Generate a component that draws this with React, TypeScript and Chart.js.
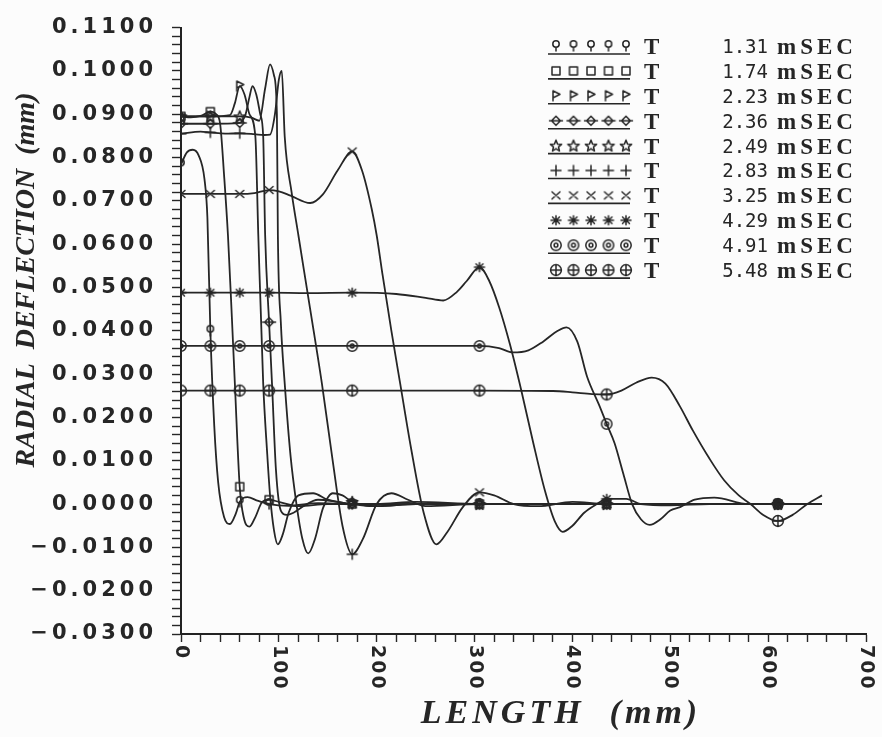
import React, { useEffect, useRef } from 'react';
import { Chart, registerables } from 'chart.js';

Chart.register(...registerables);

// ---------- data ----------
const times = ['1.31', '1.74', '2.23', '2.36', '2.49', '2.83', '3.25', '4.29', '4.91', '5.48'];
const markerKinds = ['lollipop', 'square', 'flag', 'diamond', 'star', 'plus', 'cross', 'asterisk', 'circleDot', 'circlePlus'];
const markerXs = [0, 30, 60, 90, 175, 305, 435, 610];
const xTickValues = [0, 100, 200, 300, 400, 500, 600, 700];
const yMin = -0.03;
const yMax = 0.11;
const xMin = 0;
const xMax = 700;

const x131 = [0, 6, 12, 18, 24, 27, 30, 34, 38, 44, 50, 56, 60, 68, 78, 90, 110, 140, 175, 220, 305, 435, 610, 655];
const y131 = [0.0784, 0.0812, 0.0818, 0.0805, 0.0750, 0.0660, 0.0400, 0.0180, 0.0050, -0.0030, -0.0046, -0.0022, 0.0005, 0.0016, 0.0008, 0.0000, -0.0004, 0.0002, 0.0000, 0.0000, 0.0000, 0.0000, 0.0000, 0.0000];

const x174 = [0, 10, 20, 30, 36, 40, 44, 48, 52, 55, 60, 64, 70, 76, 83, 90, 100, 120, 150, 175, 220, 305, 435, 610, 655];
const y174 = [0.0895, 0.0893, 0.0896, 0.0906, 0.0900, 0.0878, 0.0760, 0.0620, 0.0430, 0.0280, 0.0040, -0.0030, -0.0052, -0.0030, 0.0005, 0.0010, 0.0005, -0.0005, 0.0000, 0.0000, 0.0000, 0.0000, 0.0000, 0.0000, 0.0000];

const x223 = [0, 30, 50, 55, 60, 65, 70, 76, 79, 84, 88, 91, 95, 99, 104, 110, 120, 135, 150, 175, 200, 240, 305, 435, 610, 655];
const y223 = [0.0895, 0.0895, 0.0898, 0.0925, 0.0965, 0.0945, 0.0900, 0.0848, 0.0620, 0.0278, 0.0120, 0.0020, -0.0060, -0.0093, -0.0070, -0.0020, 0.0020, 0.0025, 0.0010, 0.0000, -0.0005, 0.0000, 0.0000, 0.0000, 0.0000, 0.0000];

const x236 = [0, 30, 60, 66, 70, 73, 77, 81, 84, 86, 90, 93, 97, 102, 108, 115, 125, 140, 160, 175, 200, 240, 305, 435, 610, 655];
const y236 = [0.0878, 0.0878, 0.0880, 0.0900, 0.0940, 0.0965, 0.0945, 0.0900, 0.0848, 0.0620, 0.0420, 0.0278, 0.0080, -0.0015, -0.0025, -0.0020, -0.0005, 0.0010, 0.0005, 0.0000, 0.0000, 0.0005, 0.0000, 0.0000, 0.0000, 0.0000];

const x249 = [0, 30, 60, 72, 80, 86, 91, 95, 98, 99, 102, 106, 112, 118, 124, 130, 137, 145, 155, 165, 175, 200, 240, 305, 435, 610, 655];
const y249 = [0.0895, 0.0895, 0.0895, 0.0892, 0.0885, 0.0960, 0.1015, 0.0990, 0.0900, 0.0620, 0.0420, 0.0278, 0.0110, 0.0000, -0.0080, -0.0114, -0.0080, -0.0010, 0.0025, 0.0020, 0.0005, -0.0005, 0.0000, 0.0000, 0.0000, 0.0000, 0.0000];

const x283 = [0, 20, 30, 45, 60, 75, 85, 91, 96, 100, 103, 106, 113, 120, 132, 144, 155, 165, 175, 186, 200, 215, 232, 250, 305, 435, 610, 655];
const y283 = [0.0855, 0.0860, 0.0858, 0.0855, 0.0856, 0.0854, 0.0852, 0.0853, 0.0900, 0.0980, 0.1000, 0.0848, 0.0720, 0.0620, 0.0450, 0.0278, 0.0100, -0.0050, -0.0116, -0.0080, 0.0000, 0.0025, 0.0010, -0.0005, 0.0000, 0.0000, 0.0000, 0.0000];

const x325 = [0, 30, 60, 75, 90, 100, 112, 132, 145, 160, 175, 185, 195, 200, 206, 215, 224, 235, 248, 261, 272, 288, 305, 320, 340, 365, 400, 435, 500, 610, 655];
const y325 = [0.0716, 0.0716, 0.0716, 0.0718, 0.0725, 0.0722, 0.0712, 0.0695, 0.0715, 0.0770, 0.0814, 0.0770, 0.0680, 0.0620, 0.0529, 0.0400, 0.0278, 0.0130, -0.0020, -0.0093, -0.0065, -0.0007, 0.0027, 0.0020, 0.0000, -0.0005, 0.0005, 0.0000, 0.0000, 0.0000, 0.0000];

const x429 = [0, 30, 60, 90, 130, 175, 220, 250, 268, 282, 292, 305, 315, 325, 336, 348, 360, 372, 382, 390, 400, 412, 425, 435, 455, 470, 500, 540, 610, 655];
const y429 = [0.0488, 0.0488, 0.0488, 0.0488, 0.0487, 0.0488, 0.0485, 0.0476, 0.0470, 0.0490, 0.0515, 0.0547, 0.0515, 0.0455, 0.0370, 0.0260, 0.0141, 0.0030, -0.0040, -0.0064, -0.0050, -0.0020, 0.0000, 0.0012, 0.0012, 0.0000, -0.0003, 0.0000, 0.0000, 0.0000];

const x491 = [0, 30, 60, 90, 175, 250, 305, 325, 339, 355, 370, 385, 394, 405, 415, 427, 435, 443, 452, 461, 470, 479, 490, 500, 510, 525, 545, 580, 610, 655];
const y491 = [0.0365, 0.0365, 0.0365, 0.0365, 0.0365, 0.0365, 0.0365, 0.0360, 0.0350, 0.0355, 0.0375, 0.0400, 0.0408, 0.0375, 0.0294, 0.0230, 0.0185, 0.0141, 0.0070, 0.0000, -0.0035, -0.0048, -0.0035, -0.0015, -0.0007, 0.0010, 0.0015, 0.0000, 0.0000, 0.0000];

const x548 = [0, 30, 60, 90, 175, 305, 380, 400, 420, 435, 450, 465, 481, 495, 510, 523, 540, 555, 570, 582, 595, 610, 625, 640, 655];
const y548 = [0.0262, 0.0262, 0.0262, 0.0262, 0.0262, 0.0262, 0.0261, 0.0258, 0.0254, 0.0253, 0.0262, 0.0280, 0.0292, 0.0278, 0.0225, 0.0170, 0.0105, 0.0055, 0.0020, 0.0000, -0.0025, -0.0039, -0.0025, 0.0000, 0.0020];

const seriesX = [x131, x174, x223, x236, x249, x283, x325, x429, x491, x548];
const seriesY = [y131, y174, y223, y236, y249, y283, y325, y429, y491, y548];

// ---------- styling ----------
const INK = '#262626';
const BG = '#fcfcfc';

function makeMarker(kind: string): HTMLCanvasElement {
  const s = 16;
  const c = document.createElement('canvas');
  c.width = s;
  c.height = s;
  const g = c.getContext('2d') as CanvasRenderingContext2D;
  g.strokeStyle = INK;
  g.lineWidth = 1.5;
  g.lineCap = 'round';
  g.lineJoin = 'round';
  const m = s / 2;
  g.beginPath();
  switch (kind) {
    case 'lollipop':
      g.arc(m, m - 2, 3.2, 0, Math.PI * 2);
      g.moveTo(m, m + 1.2);
      g.lineTo(m, m + 5);
      break;
    case 'square':
      g.rect(m - 4, m - 4, 8, 8);
      break;
    case 'flag':
      g.moveTo(m - 3, m + 5);
      g.lineTo(m - 3, m - 5);
      g.lineTo(m + 4, m - 1.5);
      g.lineTo(m - 3, m + 2);
      break;
    case 'diamond':
      g.moveTo(m, m - 4.5);
      g.lineTo(m + 4.5, m);
      g.lineTo(m, m + 4.5);
      g.lineTo(m - 4.5, m);
      g.closePath();
      g.moveTo(m - 6.5, m);
      g.lineTo(m + 6.5, m);
      break;
    case 'star': {
      for (let i = 0; i < 10; i++) {
        const r = i % 2 === 0 ? 6 : 2.6;
        const a = -Math.PI / 2 + (i * Math.PI) / 5;
        const px = m + r * Math.cos(a);
        const py = m + 0.5 + r * Math.sin(a);
        if (i === 0) g.moveTo(px, py);
        else g.lineTo(px, py);
      }
      g.closePath();
      break;
    }
    case 'plus':
      g.moveTo(m - 5, m);
      g.lineTo(m + 5, m);
      g.moveTo(m, m - 5);
      g.lineTo(m, m + 5);
      break;
    case 'cross':
      g.moveTo(m - 4, m - 3.5);
      g.lineTo(m + 4, m + 3.5);
      g.moveTo(m + 4, m - 3.5);
      g.lineTo(m - 4, m + 3.5);
      break;
    case 'asterisk':
      g.moveTo(m - 5, m);
      g.lineTo(m + 5, m);
      g.moveTo(m, m - 4.5);
      g.lineTo(m, m + 4.5);
      g.moveTo(m - 3.5, m - 3.2);
      g.lineTo(m + 3.5, m + 3.2);
      g.moveTo(m + 3.5, m - 3.2);
      g.lineTo(m - 3.5, m + 3.2);
      break;
    case 'circleDot':
      g.arc(m, m, 5.2, 0, Math.PI * 2);
      g.moveTo(m + 1.9, m);
      g.arc(m, m, 1.9, 0, Math.PI * 2);
      break;
    case 'circlePlus':
      g.arc(m, m, 5.4, 0, Math.PI * 2);
      g.moveTo(m - 5.4, m);
      g.lineTo(m + 5.4, m);
      g.moveTo(m, m - 5.4);
      g.lineTo(m, m + 5.4);
      break;
  }
  g.stroke();
  return c;
}

function fmtY(v: number): string {
  const k = Math.round(v * 1000);
  if (k % 10 !== 0) return '';
  const s = Math.abs(k / 1000).toFixed(4);
  return k < 0 ? '\u2212' + s : s;
}

export default function App() {
  const canvasRef = useRef<HTMLCanvasElement | null>(null);

  useEffect(() => {
    const canvas = canvasRef.current;
    if (!canvas) return;
    const markers = markerKinds.map((k) => makeMarker(k));

    const datasets = seriesX.map((xs, i) => ({
      label: 'T ' + times[i] + ' mSEC',
      data: xs.map((x, j) => ({ x, y: seriesY[i][j] })),
      borderColor: INK,
      borderWidth: 1.8,
      backgroundColor: INK,
      fill: false,
      cubicInterpolationMode: 'monotone' as const,
      pointStyle: markers[i],
      pointRadius: (ctx: any) => (ctx.raw && markerXs.includes(ctx.raw.x) ? 5 : 0),
      pointHoverRadius: 0,
    }));

    const decor = {
      id: 'decor',
      beforeDraw(chart: any) {
        const ctx = chart.ctx as CanvasRenderingContext2D;
        ctx.save();
        ctx.fillStyle = BG;
        ctx.fillRect(0, 0, chart.width, chart.height);
        ctx.restore();
        (ctx as any).letterSpacing = '4px';
      },
      beforeDatasetsDraw(chart: any) {
        (chart.ctx as any).letterSpacing = '0px';
      },
      afterDraw(chart: any) {
        const ctx = chart.ctx as CanvasRenderingContext2D;
        const xs = chart.scales.x;
        const area = chart.chartArea;
        ctx.save();
        ctx.fillStyle = INK;

        // x tick labels (rotated clockwise)
        ctx.font = 'bold 19px "DejaVu Sans"';
        (ctx as any).letterSpacing = '2px';
        ctx.textAlign = 'left';
        ctx.textBaseline = 'middle';
        for (const v of xTickValues) {
          const px = xs.getPixelForValue(v);
          ctx.save();
          ctx.translate(px, area.bottom + 11);
          ctx.rotate(Math.PI / 2);
          ctx.fillText(String(v), 0, 0);
          ctx.restore();
        }

        // axis titles
        ctx.font = 'bold italic 34px "Liberation Serif"';
        (ctx as any).letterSpacing = '4px';
        ctx.textAlign = 'center';
        ctx.fillText('LENGTH  (mm)', 561, 714);

        (ctx as any).letterSpacing = '0px';
        ctx.font = 'bold italic 28px "Liberation Serif"';
        ctx.save();
        ctx.translate(27, 280);
        ctx.rotate(-Math.PI / 2);
        ctx.fillText('RADIAL  DEFLECTION  (mm)', 0, 0);
        ctx.restore();

        // legend
        for (let i = 0; i < times.length; i++) {
          const y = 47 + i * 24.9;
          ctx.strokeStyle = INK;
          ctx.lineWidth = 1.6;
          ctx.beginPath();
          ctx.moveTo(548, y + 7);
          ctx.lineTo(630, y + 7);
          ctx.stroke();
          for (let j = 0; j < 5; j++) {
            const mk = markers[i];
            ctx.drawImage(mk, 556 + j * 17.5 - mk.width / 2, y - 1 - mk.height / 2);
          }
          ctx.textBaseline = 'middle';
          ctx.font = 'bold 23px "Liberation Serif"';
          (ctx as any).letterSpacing = '4px';
          ctx.textAlign = 'left';
          ctx.fillText('T', 644, y + 1);
          ctx.fillText('mSEC', 777, y + 1);
          (ctx as any).letterSpacing = '0px';
          ctx.font = '19px "DejaVu Sans Mono"';
          ctx.textAlign = 'right';
          ctx.fillText(times[i], 768, y + 1);
        }
        ctx.restore();
      },
    };

    const chart = new Chart(canvas, {
      type: 'line',
      data: { datasets },
      options: {
        animation: false,
        responsive: true,
        maintainAspectRatio: false,
        devicePixelRatio: 1,
        events: [],
        layout: { padding: { left: 0, right: 16, top: 20, bottom: 0 } },
        plugins: { legend: { display: false }, tooltip: { enabled: false }, title: { display: false } },
        scales: {
          x: {
            type: 'linear',
            min: xMin,
            max: xMax,
            afterFit: (s: any) => {
              s.height = 103;
            },
            ticks: { stepSize: 20, display: false },
            grid: { drawOnChartArea: false, drawTicks: true, tickLength: 8, tickColor: INK, tickWidth: 1.4 },
            border: { display: true, color: '#222', width: 2 },
          },
          y: {
            type: 'linear',
            min: yMin,
            max: yMax,
            afterFit: (s: any) => {
              s.width = 181;
            },
            ticks: {
              stepSize: 0.002,
              autoSkip: false,
              padding: 15,
              color: INK,
              font: { family: 'DejaVu Sans', size: 21, weight: 'bold' },
              callback: (v: any) => fmtY(Number(v)),
            },
            grid: { drawOnChartArea: false, drawTicks: true, tickLength: 9, tickColor: INK, tickWidth: 1.4 },
            border: { display: true, color: '#222', width: 2 },
          },
        },
      },
      plugins: [decor],
    } as any);

    return () => chart.destroy();
  }, []);

  return (
    <div style={{ position: 'absolute', left: 0, top: 0, width: 882, height: 737, background: BG }}>
      <canvas ref={canvasRef} />
    </div>
  );
}
